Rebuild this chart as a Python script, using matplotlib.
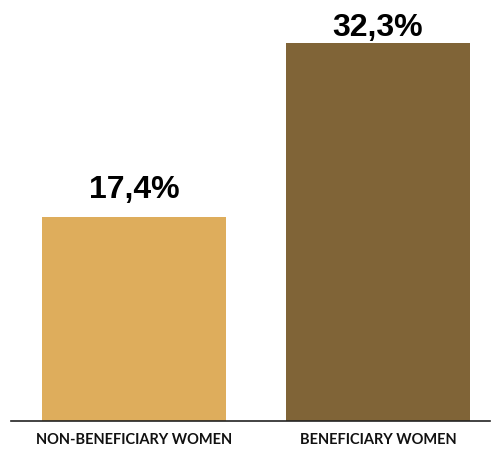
import matplotlib.pyplot as plt

# data
categories = ["NON-BENEFICIARY WOMEN", "BENEFICIARY WOMEN"]
values = [17.4, 32.3]
value_labels = ["17,4%", "32,3%"]
bar_colors = ["#DEAD5C", "#806437"]

fig = plt.figure(figsize=(4.91, 4.5), dpi=100)
ax = fig.add_axes([11 / 491, (450 - 420.5) / 450, (490 - 11) / 491, 420.5 / 450])

x = list(range(len(categories)))
ax.bar(x, values, width=184 / 244, color=bar_colors)

y_top = 36
label_cap = 32.9  # the top label gets pushed down to stay inside the canvas
for xi, v, lab in zip(x, values, value_labels):
    ax.text(xi, min(v + 1.63, label_cap), lab, ha="center", va="baseline",
            fontsize=23, fontweight="bold", family="Liberation Sans",
            color="black")

ax.set_xlim((11 - 134) / 244, (490 - 134) / 244)
ax.set_ylim(0, y_top)
ax.set_xticks(x)
ax.set_xticklabels(categories, fontsize=10.5, fontweight="bold",
                   family="Lato", color="#111111")
ax.tick_params(axis="x", length=0, pad=9)
ax.set_yticks([])
for side in ["top", "right", "left"]:
    ax.spines[side].set_visible(False)
ax.spines["bottom"].set_color("#222222")
ax.spines["bottom"].set_linewidth(1.2)

fig.savefig("out.png", dpi=100)
